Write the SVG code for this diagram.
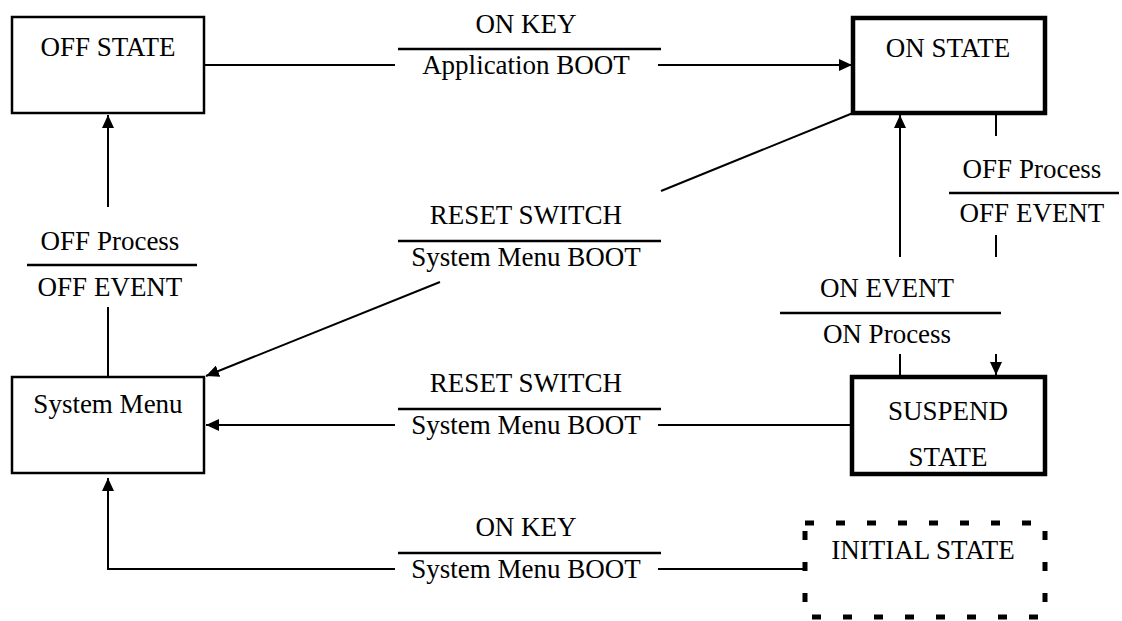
<svg xmlns="http://www.w3.org/2000/svg" width="1122" height="621" viewBox="0 0 1122 621">
<defs>
<style>
text{font-family:"Liberation Serif","Times New Roman",serif;font-size:27px;fill:#000;text-anchor:middle}
.box{fill:#fff;stroke:#000;stroke-width:2.5}
.thick{fill:#fff;stroke:#000;stroke-width:4.5}
.dash{fill:#fff;stroke:#000;stroke-width:5;stroke-dasharray:9 22}
.ln{fill:none;stroke:#000;stroke-width:2}
.bar{fill:none;stroke:#000;stroke-width:2.5}
</style>
<marker id="ah" markerUnits="userSpaceOnUse" markerWidth="14" markerHeight="12" refX="13" refY="6" orient="auto">
<path d="M0,0 L13,6 L0,12 z" fill="#000"/>
</marker>
</defs>
<rect width="1122" height="621" fill="#fff"/>
<g id="connectors">
<line class="ln" x1="204" y1="65" x2="395" y2="65"/>
<line class="ln" x1="658" y1="65" x2="852" y2="65" marker-end="url(#ah)"/>
<line class="bar" x1="398" y1="49" x2="661" y2="49"/>
<text x="526" y="33">ON KEY</text>
<text x="526" y="74">Application BOOT</text>

<line class="ln" x1="853" y1="113" x2="661" y2="191"/>
<line class="ln" x1="440" y1="282" x2="206" y2="376" marker-end="url(#ah)"/>
<line class="bar" x1="398" y1="241" x2="661" y2="241"/>
<text x="526" y="224">RESET SWITCH</text>
<text x="526" y="266">System Menu BOOT</text>

<line class="ln" x1="852" y1="425" x2="658" y2="425"/>
<line class="ln" x1="395" y1="425" x2="206" y2="425" marker-end="url(#ah)"/>
<line class="bar" x1="398" y1="409" x2="661" y2="409"/>
<text x="526" y="392">RESET SWITCH</text>
<text x="526" y="434">System Menu BOOT</text>

<line class="ln" x1="805" y1="569" x2="658" y2="569"/>
<polyline class="ln" points="395,569 108,569 108,478" marker-end="url(#ah)"/>
<line class="bar" x1="398" y1="553" x2="661" y2="553"/>
<text x="526" y="536">ON KEY</text>
<text x="526" y="578">System Menu BOOT</text>

<line class="ln" x1="108" y1="377" x2="108" y2="307"/>
<line class="ln" x1="108" y1="207" x2="108" y2="115" marker-end="url(#ah)"/>
<line class="bar" x1="27" y1="265" x2="197" y2="265"/>
<text x="110" y="250">OFF Process</text>
<text x="110" y="296">OFF EVENT</text>

<line class="ln" x1="996" y1="113" x2="996" y2="136"/>
<line class="ln" x1="996" y1="235" x2="996" y2="257"/>
<line class="ln" x1="996" y1="354" x2="996" y2="375" marker-end="url(#ah)"/>
<line class="bar" x1="949" y1="193" x2="1119" y2="193"/>
<text x="1032" y="178">OFF Process</text>
<text x="1032" y="222">OFF EVENT</text>

<line class="ln" x1="900" y1="376" x2="900" y2="354"/>
<line class="ln" x1="900" y1="257" x2="900" y2="115" marker-end="url(#ah)"/>
<line class="bar" x1="780" y1="313" x2="1001" y2="313"/>
<text x="887" y="297">ON EVENT</text>
<text x="887" y="343">ON Process</text>
</g>
<g id="off-state">
<rect class="box" x="12" y="17" width="192" height="96"/>
<text x="108" y="56">OFF STATE</text>
</g>
<g id="on-state">
<rect class="thick" x="853" y="18" width="192" height="95"/>
<text x="948" y="57">ON STATE</text>
</g>
<g id="system-menu">
<rect class="box" x="12" y="377" width="192" height="96"/>
<text x="108" y="413">System Menu</text>
</g>
<g id="suspend-state">
<rect class="thick" x="852" y="377" width="193" height="97"/>
<text x="948" y="420">SUSPEND</text>
<text x="948" y="466">STATE</text>
</g>
<g id="initial-state">
<rect class="dash" x="805" y="523" width="240" height="94"/>
<text x="923" y="559">INITIAL STATE</text>
</g>
</svg>
